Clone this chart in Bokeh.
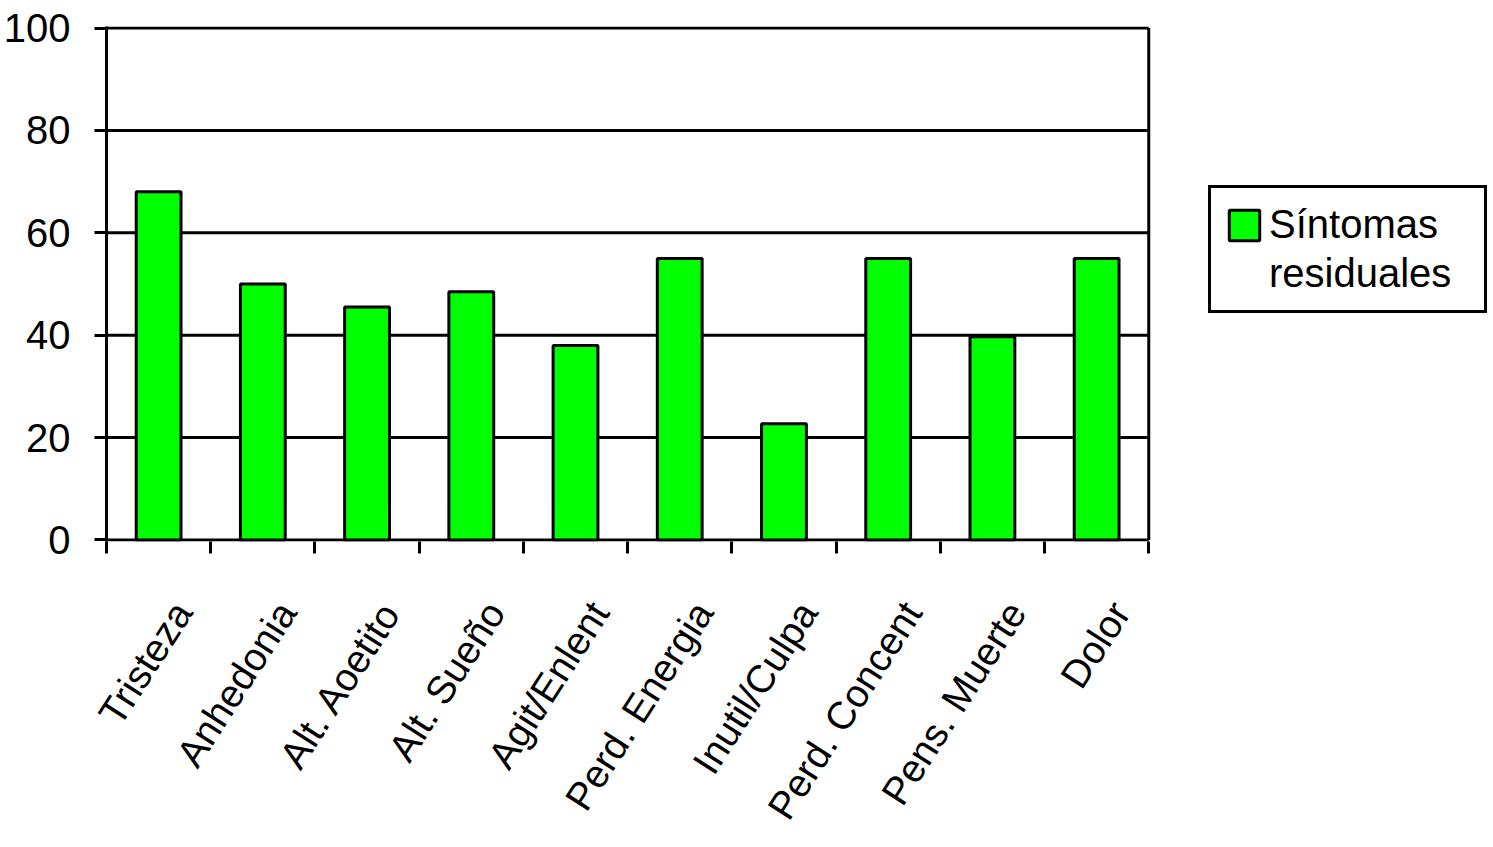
from bokeh.plotting import figure
from bokeh.models import (Range1d, LinearAxis, FixedTicker, Legend,
                          LegendItem, ColumnDataSource)
from bokeh.embed import file_html
from bokeh.resources import INLINE

# ---- data ----
categories = ["Tristeza", "Anhedonia", "Alt. Aoetito", "Alt. Sueño", "Agit/Enlent",
              "Perd. Energia", "Inutil/Culpa", "Perd. Concent", "Pens. Muerte", "Dolor"]
values = [68.0, 50.0, 45.5, 48.5, 38.0, 55.0, 22.7, 55.0, 39.7, 55.0]
y_ticks = [0, 20, 40, 60, 80, 100]
series_name = "Síntomas residuales"

FONT = "Liberation Sans"
GREEN = "#00FF00"

n = len(categories)
SCALE = 100          # width of one category slot in x units
SHIFT = 23           # label anchor offset (x units) right of slot centre
centers = [i * SCALE + SCALE // 2 for i in range(n)]
bounds = [i * SCALE for i in range(n + 1)]
label_pos = [c + SHIFT for c in centers]

# layout geometry (pixels)
W, H = 1490, 845
PLOT_L, PLOT_R = 105, 1148     # category area
FRAME_R = W - 1
x_end = n * SCALE * (FRAME_R - PLOT_L) / (PLOT_R - PLOT_L)

src = ColumnDataSource(dict(x=centers, cat=categories, val=values))

p = figure(width=W, height=H,
           x_range=Range1d(0, x_end),
           y_range=Range1d(-0.3, 100.3),
           x_axis_location=None,
           output_backend="svg", toolbar_location=None,
           min_border_left=PLOT_L, min_border_right=W - FRAME_R,
           min_border_top=26, min_border_bottom=H - 541)
p.background_fill_color = "white"
p.border_fill_color = "white"
p.outline_line_color = None
p.xgrid.visible = False
p.ygrid.visible = False

# horizontal gridlines and right border of the category area
p.segment(x0=[0] * len(y_ticks), x1=[n * SCALE] * len(y_ticks), y0=y_ticks, y1=y_ticks,
          line_color="black", line_width=3, level="underlay")
p.segment(x0=[n * SCALE], x1=[n * SCALE], y0=[y_ticks[0]], y1=[y_ticks[-1]],
          line_color="black", line_width=3)

bars = p.vbar(x="x", top="val", width=0.43 * SCALE, source=src,
              fill_color=GREEN, line_color="black", line_width=3)

# y axis
yax = p.yaxis[0]
yax.ticker = FixedTicker(ticks=y_ticks)
yax.major_label_text_font = FONT
yax.major_label_text_font_size = "40px"
yax.major_label_text_color = "black"
yax.major_label_standoff = 24
yax.major_tick_out = 12
yax.major_tick_in = 0
yax.major_tick_line_width = 3
yax.major_tick_line_color = "black"
yax.minor_tick_line_color = None
yax.axis_line_width = 3
yax.axis_line_color = "black"

# category axis: ticks at category boundaries, labels slanted
lab_axis = LinearAxis(
    ticker=FixedTicker(ticks=label_pos, minor_ticks=bounds),
    major_label_overrides={pos: name for pos, name in zip(label_pos, categories)},
    major_label_orientation=1.0,
    major_label_text_font=FONT,
    major_label_text_font_size="39px",
    major_label_text_color="black",
    major_label_standoff=52,
    major_tick_line_color=None,
    major_tick_out=0, major_tick_in=0,
    minor_tick_line_color="black", minor_tick_line_width=3,
    minor_tick_out=12, minor_tick_in=0,
    axis_line_color=None,
)
p.add_layout(lab_axis, "below")

# legend
lines = series_name.split(" ")
legend = Legend(
    items=[LegendItem(label=lines[0], renderers=[bars]),
           LegendItem(label=lines[1], renderers=[])],
    location=(1207 - PLOT_L, 541 - 313),
    label_text_font=FONT, label_text_font_size="40px", label_text_color="black",
    glyph_width=38, glyph_height=38, label_standoff=6,
    padding=14, spacing=4, margin=0,
    border_line_color="black", border_line_width=3, border_line_alpha=1.0,
    background_fill_color="white", background_fill_alpha=1.0,
    label_width=201,
)
p.add_layout(legend)

open("out.html", "w").write(file_html(p, INLINE))
